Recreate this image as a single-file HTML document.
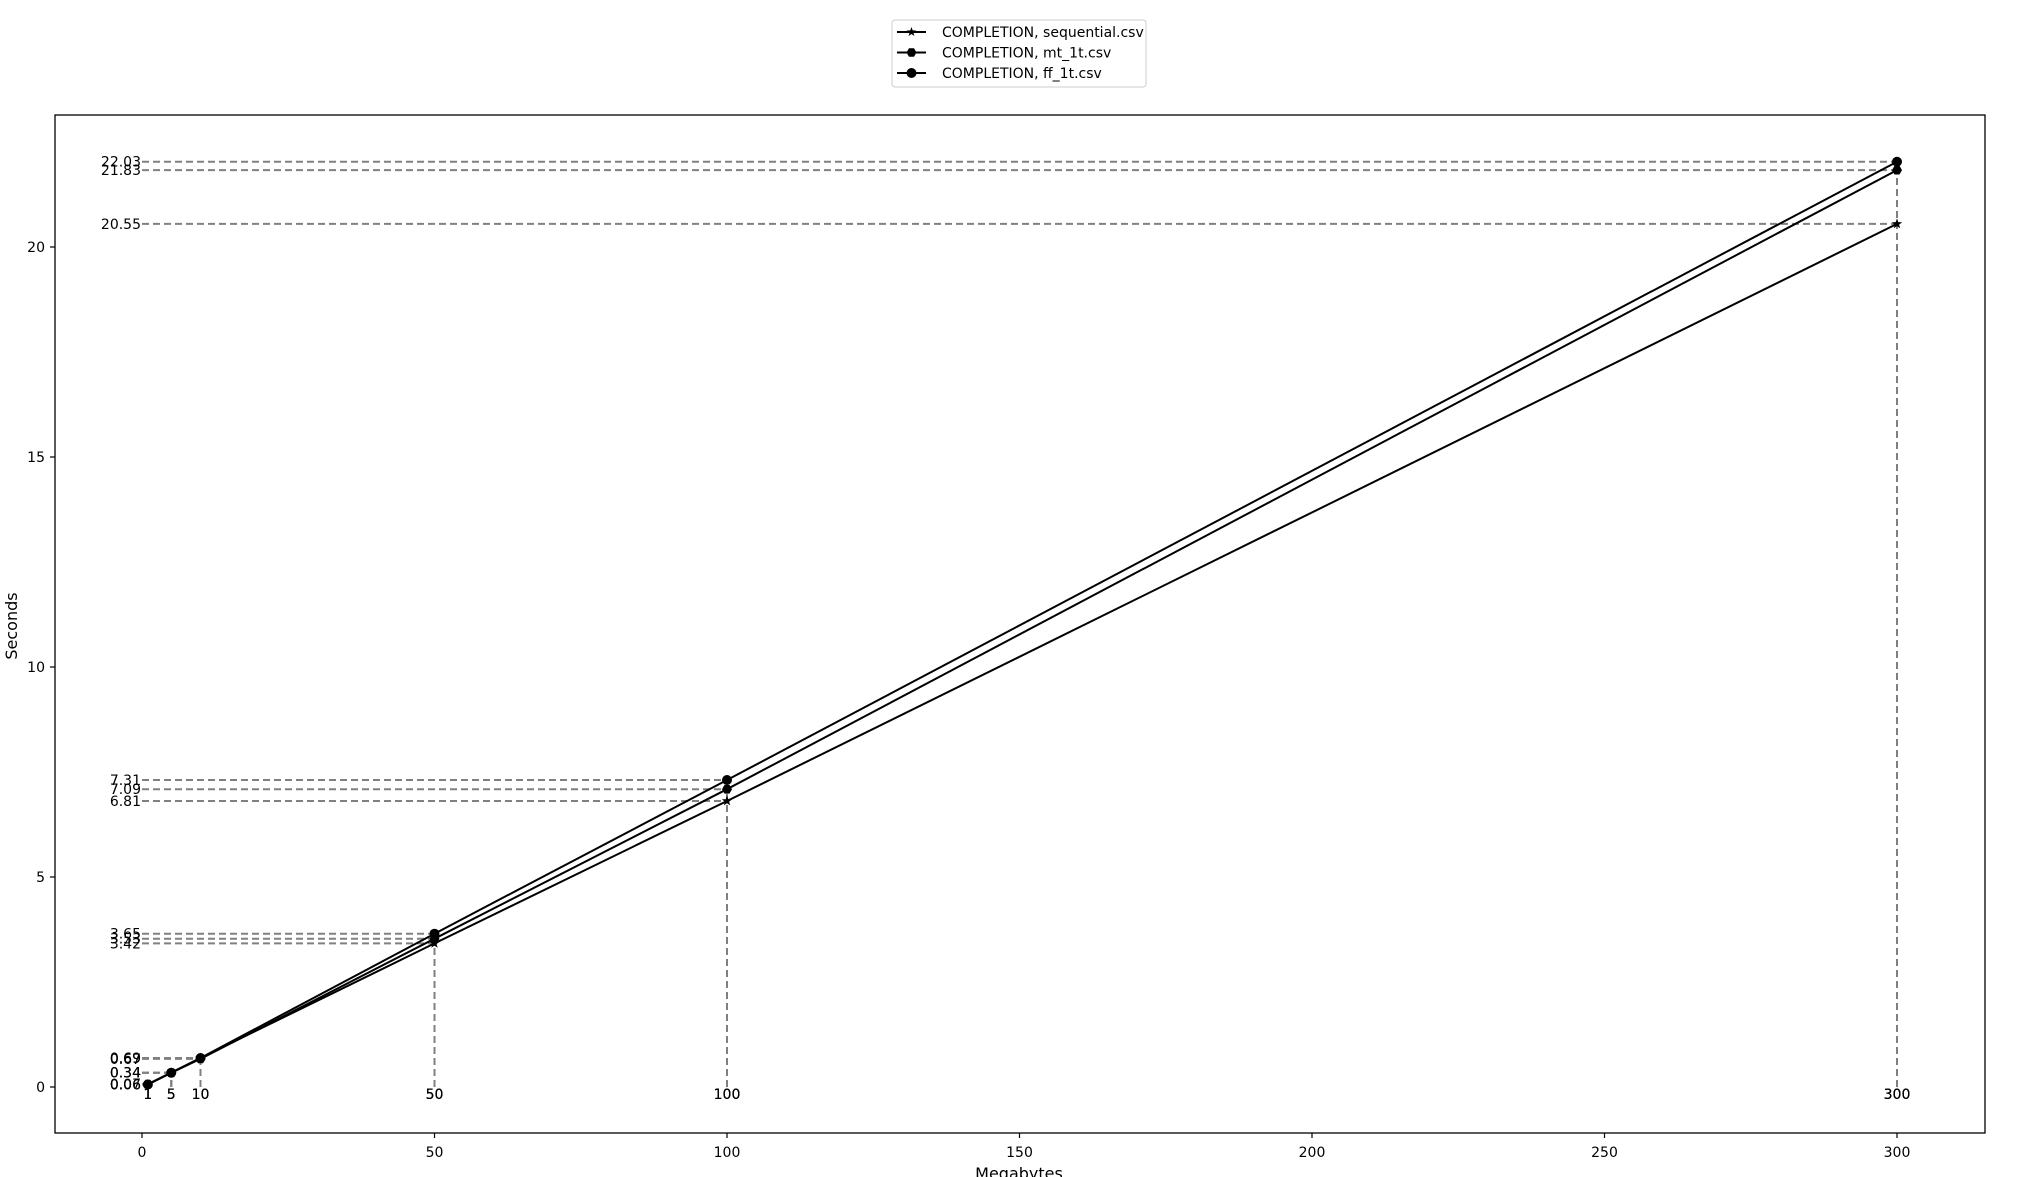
<!DOCTYPE html>
<html><head><meta charset="utf-8"><style>
html,body{margin:0;padding:0;background:#fff;}
svg{display:block;font-family:"DejaVu Sans","Liberation Sans",sans-serif;}
</style></head><body>
<svg id="chart" width="2028" height="1177" viewBox="0 0 2028 1177">
<rect x="0" y="0" width="2028" height="1177" fill="#fff"/>
<g id="plot"></g>
<rect x="55" y="115" width="1930" height="1018" fill="none" stroke="#000" stroke-width="1.3"/>
<g>
<rect x="892" y="20" width="254" height="67" rx="3" fill="#fff" stroke="#ccc" stroke-width="1"/>
<g id="legend-items"></g>
</g>
<text x="1019" y="1179" text-anchor="middle" font-size="16">Megabytes</text>
<text x="0" y="0" transform="translate(17,626) rotate(-90)" text-anchor="middle" font-size="16">Seconds</text>
</svg>
<script>
const categories = [1, 5, 10, 50, 100, 300];
const seriesNames = ["COMPLETION, sequential.csv", "COMPLETION, mt_1t.csv", "COMPLETION, ff_1t.csv"];
const sequentialValues = [0.06, 0.34, 0.69, 3.42, 6.81, 20.55];
const mtValues = [0.07, 0.34, 0.67, 3.53, 7.09, 21.83];
const ffValues = [0.06, 0.34, 0.69, 3.65, 7.31, 22.03];
const xTicks = [0, 50, 100, 150, 200, 250, 300];
const yTicks = [0, 5, 10, 15, 20];
const markerTypes = ["star", "hex", "circle"];

const NS = "http://www.w3.org/2000/svg";
const X0 = 142, XS = 5.85, Y0 = 1087, YS = 42.0;
function xs(v){ return X0 + v * XS; }
function ys(v){ return Y0 - v * YS; }
function mk(tag, attrs, parent){
  const e = document.createElementNS(NS, tag);
  for (const k in attrs) e.setAttribute(k, attrs[k]);
  parent.appendChild(e);
  return e;
}
const plot = document.getElementById('plot');
const allSeries = [sequentialValues, mtValues, ffValues];

xTicks.forEach(t => {
  const l = mk('line', {x1: xs(t), x2: xs(t), y1: 1133, y2: 1138, stroke: '#000', 'stroke-width': 1.2}, plot);
  
  
  const tx = mk('text', {x: xs(t), y: 1157, 'text-anchor': 'middle', 'font-size': 14}, plot);
  tx.textContent = t;
  
  
});
yTicks.forEach(t => {
  const l = mk('line', {x1: 50, x2: 55, y1: ys(t), y2: ys(t), stroke: '#000', 'stroke-width': 1.2}, plot);
  
  
  const tx = mk('text', {x: 45, y: ys(t) + 5, 'text-anchor': 'end', 'font-size': 14}, plot);
  tx.textContent = t;
  
  
});

allSeries.forEach(vals => {
  vals.forEach((v, i) => {
    const c = categories[i];
    const h = mk('line', {x1: xs(0), x2: xs(c), y1: ys(v), y2: ys(v), stroke: '#808080', 'stroke-width': 2, 'stroke-dasharray': '7,4'}, plot);
    
    
    const vl = mk('line', {x1: xs(c), x2: xs(c), y1: ys(0), y2: ys(v), stroke: '#808080', 'stroke-width': 2, 'stroke-dasharray': '7,4'}, plot);
    
    
    const t = mk('text', {x: xs(0) - 1, y: ys(v) + 5, 'text-anchor': 'end', 'font-size': 14}, plot);
    t.textContent = v.toFixed(2);
    
    
    const t2 = mk('text', {x: xs(c), y: ys(0) + 12, 'text-anchor': 'middle', 'font-size': 14}, plot);
    t2.textContent = c;
    
    
  });
});

function marker(type, cx, cy, parent, r){
  let e;
  if (type === 'circle') {
    e = mk('circle', {cx: cx, cy: cy, r: r, fill: '#000'}, parent);
  } else if (type === 'hex') {
    let p = [];
    for (let k = 0; k < 6; k++) { const a = Math.PI/3*k; p.push((cx + r*Math.cos(a)).toFixed(1) + ',' + (cy + r*Math.sin(a)).toFixed(1)); }
    e = mk('polygon', {points: p.join(' '), fill: '#000'}, parent);
  } else {
    let p = [];
    for (let k = 0; k < 10; k++) { const a = -Math.PI/2 + Math.PI/5*k; const rr = k % 2 ? r*0.4 : r; p.push((cx + rr*Math.cos(a)).toFixed(1) + ',' + (cy + rr*Math.sin(a)).toFixed(1)); }
    e = mk('polygon', {points: p.join(' '), fill: '#000'}, parent);
  }
  return e;
}

allSeries.forEach((vals, s) => {
  const pts = vals.map((v, i) => xs(categories[i]).toFixed(1) + ',' + ys(v).toFixed(1)).join(' ');
  const pl = mk('polyline', {points: pts, fill: 'none', stroke: '#000', 'stroke-width': 2}, plot);
  
  
  vals.forEach((v, i) => {
    const m = marker(markerTypes[s], xs(categories[i]), ys(v), plot, markerTypes[s] === 'star' ? 5.5 : 5);
    
    
  });
});

const lg = document.getElementById('legend-items');
seriesNames.forEach((n, s) => {
  const y = 32 + s * 20.5;
  const l = mk('line', {x1: 897, x2: 926, y1: y, y2: y, stroke: '#000', 'stroke-width': 2}, lg);
  
  
  const m = marker(markerTypes[s], 911.5, y, lg, 5);
  
  
  const t = mk('text', {x: 942, y: y + 5, 'font-size': 14}, lg);
  t.textContent = n;
  
  
});
</script>
</body></html>
